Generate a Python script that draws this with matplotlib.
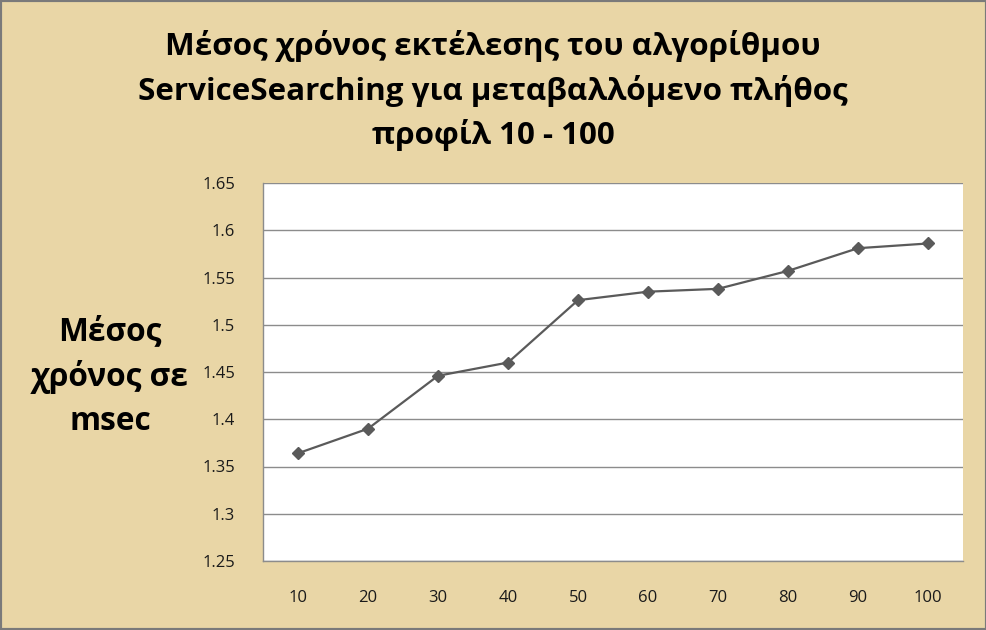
from matplotlib import pyplot as plt
from matplotlib.patches import Rectangle

# profile counts (x categories) and mean execution time in msec
profiles = [10, 20, 30, 40, 50, 60, 70, 80, 90, 100]
mean_time = [1.364, 1.390, 1.446, 1.460, 1.526, 1.535, 1.538, 1.557, 1.581, 1.586]

yticks = [1.25, 1.3, 1.35, 1.4, 1.45, 1.5, 1.55, 1.6, 1.65]
ytick_labels = ['1.25', '1.3', '1.35', '1.4', '1.45', '1.5', '1.55', '1.6', '1.65']

title_lines = ['Μέσος χρόνος εκτέλεσης του αλγορίθμου',
               'ServiceSearching για μεταβαλλόμενο πλήθος',
               'προφίλ 10 - 100']
ylabel_lines = ['Μέσος', 'χρόνος σε', 'msec']

FONT = ['Open Sans', 'DejaVu Sans']
BG = '#E9D6A6'
LINE = '#5A5A5A'
GRID = '#8C8C8C'

plt.rcParams['font.family'] = FONT

fig = plt.figure(figsize = (9.87, 6.30), dpi = 100, facecolor = BG)
fig.patches.append(Rectangle((0, 0), 1, 1, transform = fig.transFigure,
                             fill = False, edgecolor = '#7A7A7A', linewidth = 3))

ax = fig.add_axes([263 / 987, 69 / 630, 700 / 987, 378 / 630])
ax.set_facecolor('white')

xs = list(range(1, len(profiles) + 1))
ax.plot(xs, mean_time, color = LINE, linewidth = 1.6, marker = 'D',
        markersize = 6.5, markerfacecolor = LINE, markeredgecolor = LINE, zorder = 3)

ax.set_xlim(0.5, len(profiles) + 0.5)
ax.set_xticks(xs)
ax.set_xticklabels([str(p) for p in profiles], fontsize = 12, color = '#1a1a1a')

ax.set_ylim(1.25, 1.65)
ax.set_yticks(yticks)
ax.set_yticklabels(ytick_labels, fontsize = 12, color = '#1a1a1a')

ax.tick_params(axis = 'both', length = 0)
ax.tick_params(axis = 'x', pad = 21)
ax.tick_params(axis = 'y', pad = 20)

ax.grid(True, axis = 'y', color = GRID, linewidth = 1)
ax.set_axisbelow(True)
for side in ['top', 'right']:
  ax.spines[side].set_visible(False)
for side in ['left', 'bottom']:
  ax.spines[side].set_color(GRID)
  ax.spines[side].set_linewidth(1)

title_y = [46, 91, 135]
for line, y in zip(title_lines, title_y):
  fig.text(493 / 987, 1 - y / 630, line, ha = 'center', va = 'center',
           fontsize = 22.6, fontweight = 'bold', color = 'black')

ylabel_y = [332, 377, 422]
for line, y in zip(ylabel_lines, ylabel_y):
  fig.text(110 / 987, 1 - y / 630, line, ha = 'center', va = 'center',
           fontsize = 22.8, fontweight = 'bold', color = 'black')

fig.savefig('out.png', dpi = 100, facecolor = BG)
